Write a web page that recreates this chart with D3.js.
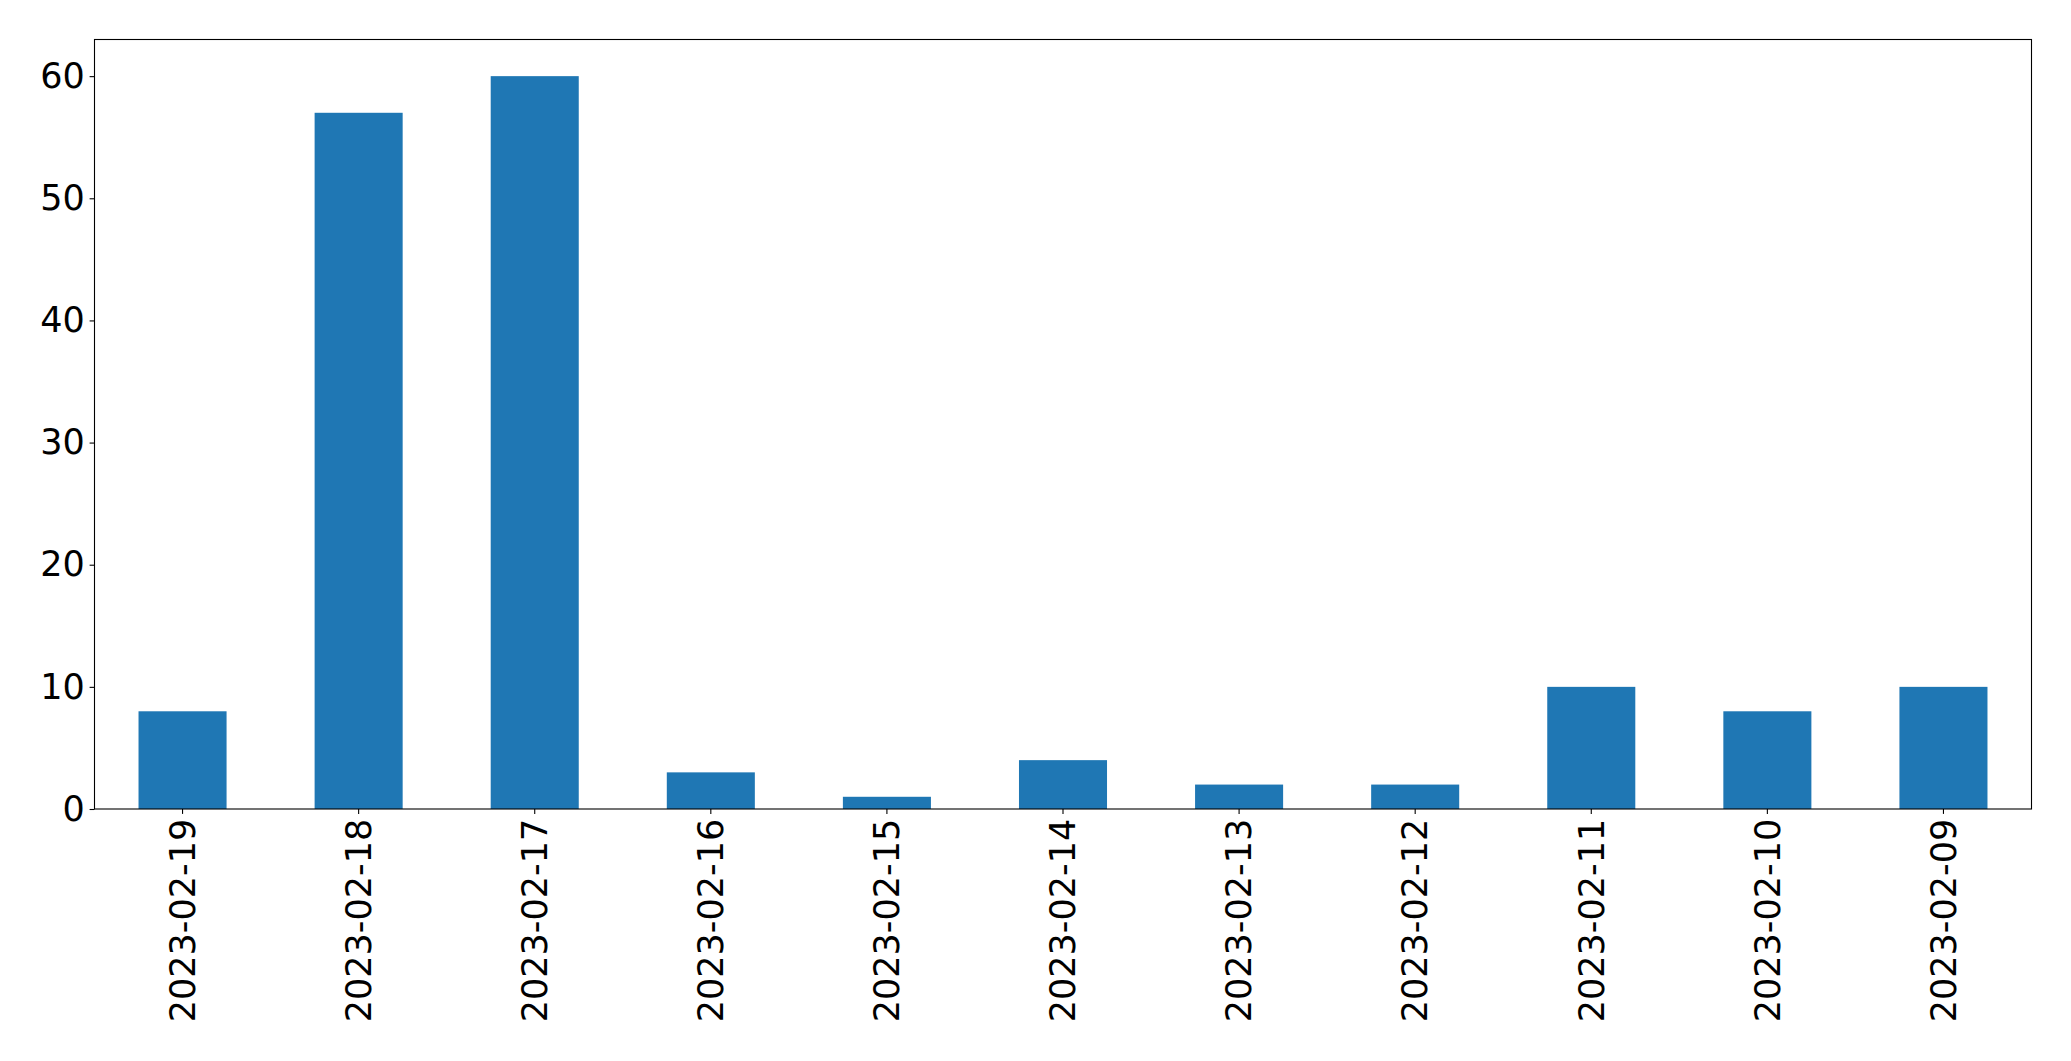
<!DOCTYPE html>
<html><head><meta charset="utf-8">
<script src="https://cdn.jsdelivr.net/npm/d3@7"></script>
<style>body{margin:0;background:#fff}svg{display:block}text{font-family:"DejaVu Sans",sans-serif;fill:#000}</style>
</head><body>
<script>
const categories = ["2023-02-19","2023-02-18","2023-02-17","2023-02-16","2023-02-15","2023-02-14","2023-02-13","2023-02-12","2023-02-11","2023-02-10","2023-02-09"];
const values = [8, 57, 60, 3, 1, 4, 2, 2, 10, 8, 10];
const yTicks = [0, 10, 20, 30, 40, 50, 60];

const W = 2071, H = 1061;
const m = {left: 94.5, right: 2031.5, top: 39.5, bottom: 809};
const svg = d3.select("body").append("svg").attr("width", W).attr("height", H);

const x = d3.scaleBand().domain(categories).range([m.left, m.right]).paddingInner(0.5).paddingOuter(0.25);
const y = d3.scaleLinear().domain([0, 63]).range([m.bottom, m.top]);

svg.selectAll("rect.bar").data(values).join("rect").attr("class","bar")
  .attr("x", (d,i) => x(categories[i]))
  .attr("width", x.bandwidth())
  .attr("y", d => y(d))
  .attr("height", d => y(0) - y(d))
  .attr("fill", "#1f77b4");

const fs = "35px";
const yAxis = svg.append("g").attr("transform", `translate(${m.left},0)`)
  .call(d3.axisLeft(y).tickValues(yTicks).tickSize(4.9).tickPadding(4.9));
yAxis.select(".domain").remove();
yAxis.selectAll("line").attr("stroke","#000").attr("stroke-width",1.1);
yAxis.selectAll("text").style("font-size", fs).attr("font-family","DejaVu Sans").attr("fill","#000");

const xAxis = svg.append("g").attr("transform", `translate(0,${m.bottom})`)
  .call(d3.axisBottom(x).tickSize(4.9).tickPadding(4.9));
xAxis.select(".domain").remove();
xAxis.selectAll("line").attr("stroke","#000").attr("stroke-width",1.1);
xAxis.selectAll("text").style("font-size", fs).attr("font-family","DejaVu Sans").attr("fill","#000")
  .attr("transform","rotate(-90)").attr("text-anchor","end").attr("x", -9.8).attr("y", 0).attr("dy","0.35em");

svg.append("rect").attr("x", m.left).attr("y", m.top).attr("width", m.right - m.left).attr("height", m.bottom - m.top)
  .attr("fill","none").attr("stroke","#000").attr("stroke-width",1.1);
</script>
</body></html>
